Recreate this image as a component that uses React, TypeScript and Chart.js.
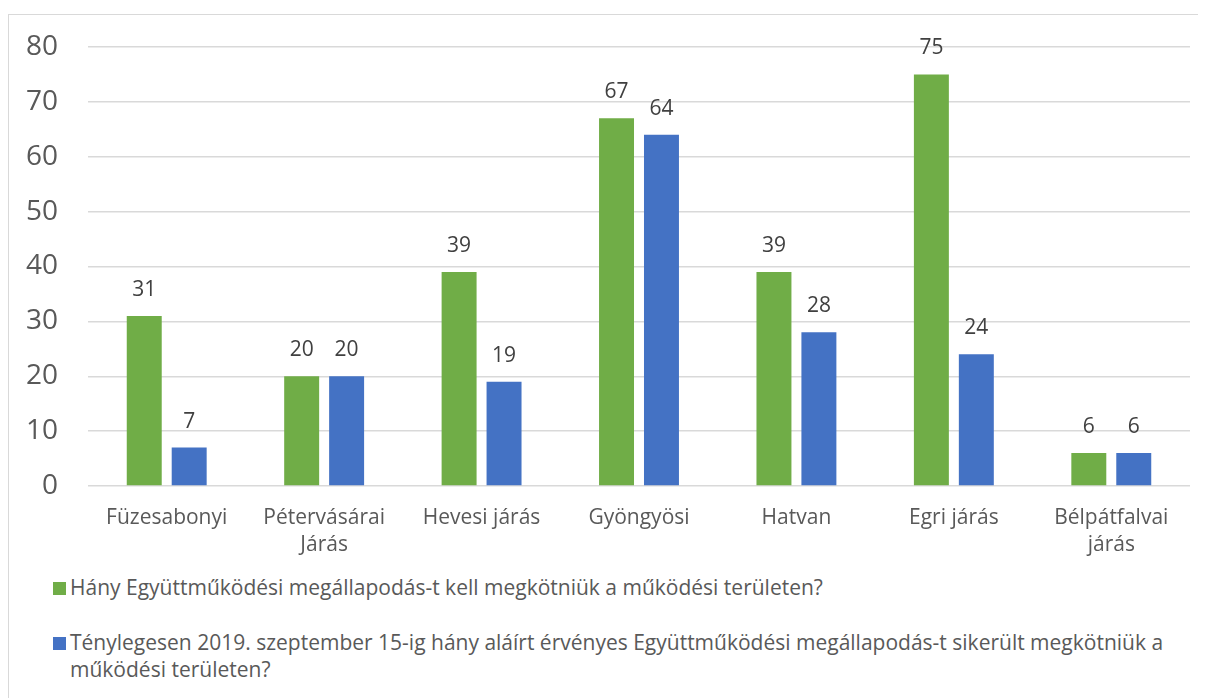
import React, { useEffect, useRef } from "react";
import { Chart, registerables } from "chart.js";

Chart.register(...registerables);

const categories: string[][] = [
  ["Füzesabonyi"],
  ["Pétervásárai", "Járás"],
  ["Hevesi járás"],
  ["Gyöngyösi"],
  ["Hatvan"],
  ["Egri járás"],
  ["Bélpátfalvai", "járás"],
];

const seriesRequiredLabel =
  "Hány Együttműködési megállapodás-t kell megkötniük a működési területen?";
const seriesRequired = [31, 20, 39, 67, 39, 75, 6];

const seriesSignedLabel =
  "Ténylegesen 2019. szeptember 15-ig hány aláírt érvényes Együttműködési megállapodás-t sikerült megkötniük a működési területen?";
const seriesSigned = [7, 20, 19, 64, 28, 24, 6];

const yTicks = [0, 10, 20, 30, 40, 50, 60, 70, 80];

const GREEN = "#70AD47";
const BLUE = "#4472C4";
const FONT = "'Open Sans', 'Noto Sans', sans-serif";

const valueLabels = {
  id: "valueLabels",
  afterDatasetsDraw(chart: any) {
    const ctx = chart.ctx;
    ctx.save();
    ctx.font = `21px ${FONT}`;
    ctx.fillStyle = "#404040";
    ctx.textAlign = "center";
    ctx.textBaseline = "middle";
    chart.data.datasets.forEach((ds: any, i: number) => {
      const meta = chart.getDatasetMeta(i);
      meta.data.forEach((el: any, j: number) => {
        ctx.fillText(String(ds.data[j]), el.x, el.y - 26);
      });
    });
    ctx.restore();
  },
};

export default function App() {
  const ref = useRef<HTMLCanvasElement | null>(null);

  useEffect(() => {
    document.documentElement.style.overflow = "hidden";
    document.body.style.overflow = "hidden";
    if (!ref.current) return;
    const chart = new Chart(ref.current, {
      type: "bar",
      data: {
        labels: categories,
        datasets: [
          {
            label: seriesRequiredLabel,
            data: seriesRequired,
            backgroundColor: GREEN,
            categoryPercentage: 0.571,
            barPercentage: 0.778,
          },
          {
            label: seriesSignedLabel,
            data: seriesSigned,
            backgroundColor: BLUE,
            categoryPercentage: 0.571,
            barPercentage: 0.778,
          },
        ],
      },
      options: {
        animation: false,
        responsive: false,
        layout: { padding: { top: 32, right: 8, left: 0, bottom: 0 } },
        plugins: {
          legend: { display: false },
          tooltip: { enabled: false },
        },
        scales: {
          x: {
            grid: { display: false, drawTicks: false },
            border: { display: false },
            ticks: {
              color: "#595959",
              font: { family: FONT, size: 21, lineHeight: 1.3 },
              padding: 18,
              maxRotation: 0,
              autoSkip: false,
            },
            afterFit: (s: any) => {
              s.height = 74;
              s.paddingLeft = 0;
              s.paddingRight = 0;
            },
          },
          y: {
            min: 0,
            max: 80,
            afterBuildTicks: (s: any) => {
              s.ticks = yTicks.map((v) => ({ value: v }));
            },
            grid: { color: "#d9d9d9", lineWidth: 1.5, drawTicks: false },
            border: { display: false },
            ticks: {
              color: "#595959",
              font: { family: FONT, size: 28 },
              padding: 30,
            },
            afterFit: (s: any) => {
              s.width = 79;
              s.paddingTop = 0;
              s.paddingBottom = 0;
            },
          },
        },
      },
      plugins: [valueLabels],
    });
    return () => chart.destroy();
  }, []);

  const legendItems = [
    { label: seriesRequiredLabel, color: GREEN },
    { label: seriesSignedLabel, color: BLUE },
  ];

  return (
    <div
      style={{
        position: "relative",
        marginTop: 6,
        width: 1200,
        height: 690,
        borderTop: "1px solid #d9d9d9",
        borderLeft: "1px solid #d9d9d9",
        boxSizing: "border-box",
        background: "#fff",
        overflow: "hidden",
      }}
    >
      <canvas
        ref={ref}
        width={1189}
        height={545}
        style={{ display: "block", width: 1189, height: 545 }}
      />
      <div
        style={{
          position: "absolute",
          left: 44,
          top: 559,
          fontFamily: FONT,
          fontSize: 21,
          color: "#595959",
          lineHeight: "27px",
        }}
      >
        {legendItems.map((it, i) => (
          <div
            key={i}
            style={{ display: "flex", alignItems: "flex-start", marginBottom: 28 }}
          >
            <span
              style={{
                display: "inline-block",
                width: 13,
                height: 13,
                background: it.color,
                marginTop: 8,
                marginRight: 4,
                flex: "0 0 auto",
              }}
            />
            <span style={{ maxWidth: 1125 }}>{it.label}</span>
          </div>
        ))}
      </div>
    </div>
  );
}
